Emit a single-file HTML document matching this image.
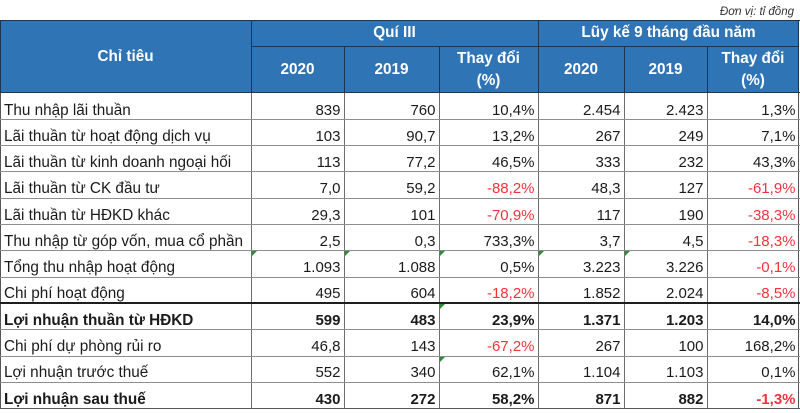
<!DOCTYPE html>
<html><head><meta charset="utf-8">
<style>
html,body{margin:0;padding:0;background:#fff;}
body{width:800px;height:409px;position:relative;overflow:hidden;font-family:"Liberation Sans",Arial,sans-serif;color:#1b1b1b;}
.hd{position:absolute;left:0;top:20px;width:799px;height:73px;background:#2f74b5;}
.ln{position:absolute;background:#8e8e8e;}
.hl{position:absolute;background:#1d3550;}
.ht{position:absolute;color:#fff;font-weight:bold;font-size:15.3px;text-align:center;white-space:nowrap;}
.r{position:absolute;left:0;width:800px;height:26px;}
.r div{position:absolute;top:4.5px;line-height:26px;white-space:nowrap;font-size:15px;text-align:right;}
.r .a{left:4px;text-align:left;font-size:15.3px;}
.r .c1{left:251px;width:89.5px;}
.r .c2{left:344px;width:91.5px;}
.r .c3{left:439px;width:95.5px;}
.r .c4{left:538px;width:82.5px;}
.r .c5{left:624px;width:79.5px;}
.r .c6{left:707px;width:88.5px;}
.r .red{color:#f2333b;}
.b div{font-weight:bold;}
.tri{position:absolute;width:0;height:0;border-top:5px solid #2f8a3a;border-right:5px solid transparent;}
.unit{position:absolute;right:6px;top:5px;font-size:11.5px;font-style:italic;color:#333;line-height:14px;}
</style></head><body>
<div class="unit">Đơn vị: tỉ đồng</div>

<div class="hd"></div>
<div class="hl" style="left:0;top:20px;width:800px;height:1px"></div>
<div class="hl" style="left:0;top:92px;width:800px;height:1px"></div>
<div class="hl" style="left:0;top:20px;width:1px;height:73px"></div>
<div class="hl" style="left:798px;top:20px;width:1px;height:73px"></div>
<div class="hl" style="left:251px;top:20px;width:1px;height:73px"></div>
<div class="hl" style="left:538px;top:20px;width:1px;height:73px"></div>
<div class="hl" style="left:251px;top:46px;width:548px;height:1px"></div>
<div class="hl" style="left:344px;top:46px;width:1px;height:47px"></div>
<div class="hl" style="left:439px;top:46px;width:1px;height:47px"></div>
<div class="hl" style="left:624px;top:46px;width:1px;height:47px"></div>
<div class="hl" style="left:707px;top:46px;width:1px;height:47px"></div>

<div class="ht" style="left:0;width:251px;top:47px;line-height:20px">Chỉ tiêu</div>
<div class="ht" style="left:251px;width:287px;top:23px;line-height:20px">Quí III</div>
<div class="ht" style="left:538px;width:261px;top:23px;line-height:20px">Lũy kế 9 tháng đầu năm</div>
<div class="ht" style="left:251px;width:93px;top:60px;line-height:20px">2020</div>
<div class="ht" style="left:344px;width:95px;top:60px;line-height:20px">2019</div>
<div class="ht" style="left:439px;width:99px;top:48px;line-height:21.5px">Thay đổi<br>(%)</div>
<div class="ht" style="left:538px;width:86px;top:60px;line-height:20px">2020</div>
<div class="ht" style="left:624px;width:83px;top:60px;line-height:20px">2019</div>
<div class="ht" style="left:707px;width:92px;top:48px;line-height:21.5px">Thay đổi<br>(%)</div>

<div class="ln" style="left:0;top:93px;width:1px;height:316px;background:#555"></div>
<div class="ln" style="left:798px;top:93px;width:1px;height:316px;background:#555"></div>
<div class="ln" style="left:251px;top:93px;width:1px;height:316px;background:#6e6e6e"></div>
<div class="ln" style="left:344px;top:93px;width:1px;height:316px;background:#6e6e6e"></div>
<div class="ln" style="left:439px;top:93px;width:1px;height:316px;background:#6e6e6e"></div>
<div class="ln" style="left:538px;top:93px;width:1px;height:316px;background:#6e6e6e"></div>
<div class="ln" style="left:624px;top:93px;width:1px;height:316px;background:#6e6e6e"></div>
<div class="ln" style="left:707px;top:93px;width:1px;height:316px;background:#6e6e6e"></div>

<div class="ln" style="left:0;top:119px;width:800px;height:1px"></div>
<div class="ln" style="left:0;top:145px;width:800px;height:1px"></div>
<div class="ln" style="left:0;top:171px;width:800px;height:1px"></div>
<div class="ln" style="left:0;top:198px;width:800px;height:1px"></div>
<div class="ln" style="left:0;top:224px;width:800px;height:1px"></div>
<div class="ln" style="left:0;top:250px;width:800px;height:1px"></div>
<div class="ln" style="left:0;top:277px;width:800px;height:1px"></div>
<div class="ln" style="left:0;top:302px;width:800px;height:2px;background:#1e1e1e"></div>
<div class="ln" style="left:0;top:329px;width:800px;height:1px"></div>
<div class="ln" style="left:0;top:356px;width:800px;height:1px"></div>
<div class="ln" style="left:0;top:382px;width:800px;height:1px"></div>
<div class="ln" style="left:0;top:408px;width:800px;height:1px;background:#555"></div>

<div class="r" style="top:93px"><div class="a">Thu nhập lãi thuần</div><div class="c1">839</div><div class="c2">760</div><div class="c3">10,4%</div><div class="c4">2.454</div><div class="c5">2.423</div><div class="c6">1,3%</div></div>
<div class="r" style="top:119.3px"><div class="a">Lãi thuần từ hoạt động dịch vụ</div><div class="c1">103</div><div class="c2">90,7</div><div class="c3">13,2%</div><div class="c4">267</div><div class="c5">249</div><div class="c6">7,1%</div></div>
<div class="r" style="top:145.5px"><div class="a">Lãi thuần từ kinh doanh ngoại hối</div><div class="c1">113</div><div class="c2">77,2</div><div class="c3">46,5%</div><div class="c4">333</div><div class="c5">232</div><div class="c6">43,3%</div></div>
<div class="r" style="top:171.8px"><div class="a">Lãi thuần từ CK đầu tư</div><div class="c1">7,0</div><div class="c2">59,2</div><div class="c3 red">-88,2%</div><div class="c4">48,3</div><div class="c5">127</div><div class="c6 red">-61,9%</div></div>
<div class="r" style="top:198.1px"><div class="a">Lãi thuần từ HĐKD khác</div><div class="c1">29,3</div><div class="c2">101</div><div class="c3 red">-70,9%</div><div class="c4">117</div><div class="c5">190</div><div class="c6 red">-38,3%</div></div>
<div class="r" style="top:224.4px"><div class="a">Thu nhập từ góp vốn, mua cổ phần</div><div class="c1">2,5</div><div class="c2">0,3</div><div class="c3">733,3%</div><div class="c4">3,7</div><div class="c5">4,5</div><div class="c6 red">-18,3%</div></div>
<div class="r" style="top:250.6px"><div class="a">Tổng thu nhập hoạt động</div><div class="c1">1.093</div><div class="c2">1.088</div><div class="c3">0,5%</div><div class="c4">3.223</div><div class="c5">3.226</div><div class="c6 red">-0,1%</div></div>
<div class="r" style="top:276.9px"><div class="a">Chi phí hoạt động</div><div class="c1">495</div><div class="c2">604</div><div class="c3 red">-18,2%</div><div class="c4">1.852</div><div class="c5">2.024</div><div class="c6 red">-8,5%</div></div>
<div class="r b" style="top:303.2px"><div class="a">Lợi nhuận thuần từ HĐKD</div><div class="c1">599</div><div class="c2">483</div><div class="c3">23,9%</div><div class="c4">1.371</div><div class="c5">1.203</div><div class="c6">14,0%</div></div>
<div class="r" style="top:329.4px"><div class="a">Chi phí dự phòng rủi ro</div><div class="c1">46,8</div><div class="c2">143</div><div class="c3 red">-67,2%</div><div class="c4">267</div><div class="c5">100</div><div class="c6">168,2%</div></div>
<div class="r" style="top:355.7px"><div class="a">Lợi nhuận trước thuế</div><div class="c1">552</div><div class="c2">340</div><div class="c3">62,1%</div><div class="c4">1.104</div><div class="c5">1.103</div><div class="c6">0,1%</div></div>
<div class="r b" style="top:382px"><div class="a">Lợi nhuận sau thuế</div><div class="c1">430</div><div class="c2">272</div><div class="c3">58,2%</div><div class="c4">871</div><div class="c5">882</div><div class="c6 red">-1,3%</div></div>

<div class="tri" style="left:252px;top:251px"></div>
<div class="tri" style="left:345px;top:251px"></div>
<div class="tri" style="left:440px;top:251px"></div>
<div class="tri" style="left:539px;top:251px"></div>
<div class="tri" style="left:625px;top:251px"></div>
<div class="tri" style="left:440px;top:304px"></div>
<div class="tri" style="left:440px;top:357px"></div>
</body></html>
